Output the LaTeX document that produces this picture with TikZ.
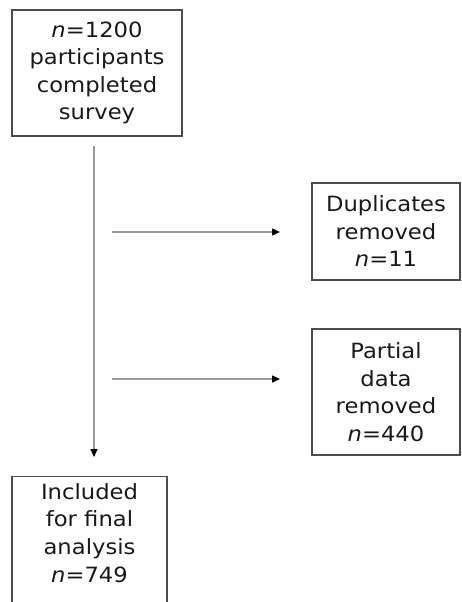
\documentclass[tikz,border=0pt]{standalone}
\usepackage{fontspec}
\setmainfont{DejaVu Sans}[FakeStretch=1.08]
\usetikzlibrary{arrows.meta}
\begin{document}
\begin{tikzpicture}[x=1pt,y=-1pt,
  box/.style={draw=black!70, line width=1.3pt, align=center, inner sep=0pt,
    font=\fontsize{21}{27.5}\selectfont, text=black!90},
  conn/.style={draw=black!40, line width=1.2pt, -{Triangle[length=8pt,width=7pt,fill=black,color=black]}}]
\useasboundingbox (0,0) rectangle (461,602);
\clip (0,0) rectangle (461,602);
\node[box, minimum width=170pt, minimum height=126pt] (top) at (97,73)
  {\textit{n}=1200\\participants\\completed\\survey};
\node[box, minimum width=148pt, minimum height=97pt] (dup) at (386,231.5)
  {Duplicates\\removed\\\textit{n}=11};
\node[box, minimum width=148pt, minimum height=126pt] (part) at (386,392)
  {Partial\\data\\removed\\\textit{n}=440};
\node[box, minimum width=155pt, minimum height=160pt, anchor=north] (inc) at (89.5,476) {};
\node[align=center, inner sep=0pt, font=\fontsize{21}{27.7}\selectfont, text=black!90, anchor=north] (inctext) at (89.5,483)
  {Included\\for final\\analysis\\\textit{n}=749};
\coordinate (vs) at (94,146);
\coordinate (ve) at (94,457);
\coordinate (h1s) at (112,232);
\coordinate (h1e) at (280,232);
\coordinate (h2s) at (112,379);
\coordinate (h2e) at (280,379);
\draw[conn] (vs) -- (ve);
\draw[conn] (h1s) -- (h1e);
\draw[conn] (h2s) -- (h2e);
\end{tikzpicture}
\end{document}
